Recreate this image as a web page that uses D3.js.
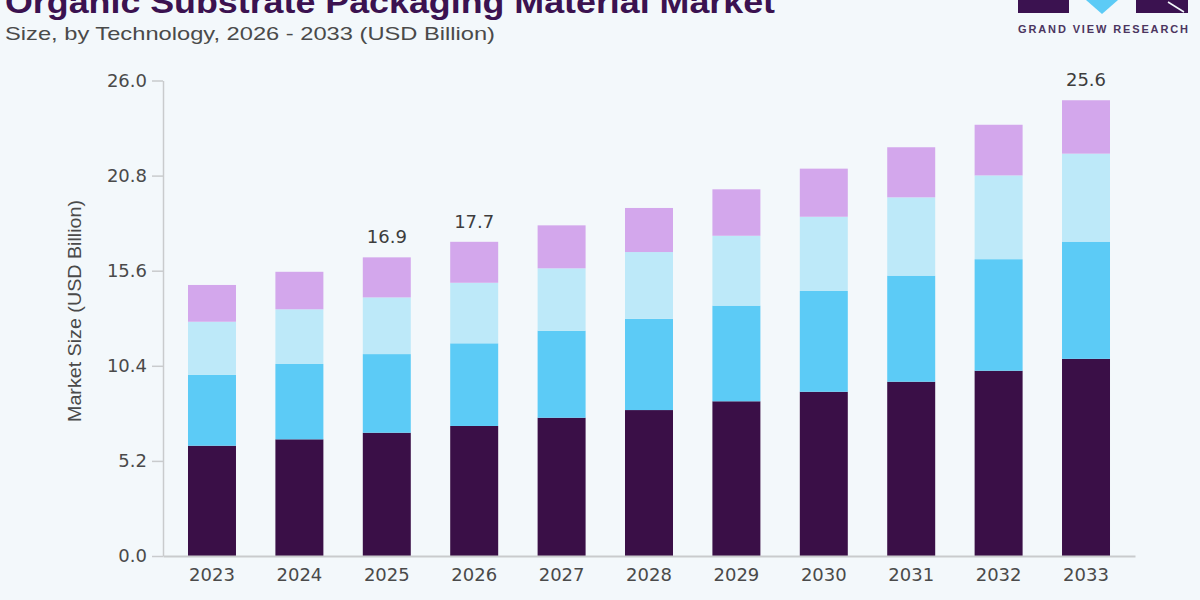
<!DOCTYPE html>
<html>
<head>
<meta charset="utf-8">
<script src="https://cdn.jsdelivr.net/npm/d3@7"></script>
<style>
  html, body { margin: 0; padding: 0; background: #f3f8fb; }
  svg { display: block; font-family: "Liberation Sans", Arial, sans-serif; }
</style>
</head>
<body>
<svg id="chart" width="1200" height="600"></svg>
<script>
// data (USD Billion)
const years = ['2023', '2024', '2025', '2026', '2027', '2028', '2029', '2030', '2031', '2032', '2033'];
const seriesKeys = ['soPackages', 'gaPackages', 'flatNoLeads', 'others'];
const soPackages  = [6.03, 6.38, 6.74, 7.11, 7.56, 7.98, 8.46, 8.98, 9.53, 10.13, 10.78];
const gaPackages  = [3.87, 4.12, 4.30, 4.52, 4.76, 4.99, 5.23, 5.51, 5.80, 6.10, 6.41];
const flatNoLeads = [2.91, 2.99, 3.10, 3.31, 3.41, 3.65, 3.82, 4.06, 4.28, 4.58, 4.81];
const others      = [2.01, 2.05, 2.19, 2.24, 2.35, 2.41, 2.54, 2.63, 2.74, 2.77, 2.92];
const yTicks = [0, 5.2, 10.4, 15.6, 20.8, 26.0];
const labelYears = ['2025', '2026', '2033'];
const labelTexts = ['16.9', '17.7', '25.6'];

const colors = ['#3a0f47', '#5ccbf6', '#bde9f9', '#d3a7ec'];
const numFont = '"DejaVu Sans", Verdana, sans-serif';

const svg = d3.select('#chart');

const table = years.map((yr, i) => ({
  year: yr,
  soPackages: soPackages[i],
  gaPackages: gaPackages[i],
  flatNoLeads: flatNoLeads[i],
  others: others[i]
}));

const stacked = d3.stack().keys(seriesKeys)(table);

const x = d3.scaleBand()
  .domain(years)
  .range([163, 1135])
  .paddingInner(0.451)
  .paddingOuter(0.286);

const y = d3.scaleLinear()
  .domain([0, 26])
  .range([556, 80.5]);

// title + subtitle (title is cut off at the top like the image)
svg.append('text')
  .attr('x', 5).attr('y', 13)
  .attr('fill', '#3b1250')
  .style('font-size', '31px')
  .style('font-weight', 'bold')
  .attr('textLength', 770)
  .attr('lengthAdjust', 'spacingAndGlyphs')
  .text('Organic Substrate Packaging Material Market');

svg.append('text')
  .attr('x', 5).attr('y', 40)
  .attr('fill', '#4a4a4a')
  .style('font-size', '19px')
  .attr('textLength', 490)
  .attr('lengthAdjust', 'spacingAndGlyphs')
  .text('Size, by Technology, 2026 - 2033 (USD Billion)');

// logo
const logo = svg.append('g');
logo.append('rect').attr('x', 1018).attr('y', 0).attr('width', 51).attr('height', 13).attr('fill', '#3b1250');
logo.append('path').attr('d', 'M1086,0 L1118,0 L1102,14 Z').attr('fill', '#5ccbf6');
logo.append('rect').attr('x', 1136).attr('y', 0).attr('width', 52).attr('height', 13).attr('fill', '#3b1250');
logo.append('path').attr('d', 'M1168,2 L1184,12').attr('stroke', '#f3f8fb').attr('stroke-width', 1.5);
logo.append('text')
  .attr('x', 1018).attr('y', 33)
  .attr('fill', '#4b3560')
  .style('font-size', '11px')
  .style('font-weight', 'bold')
  .attr('textLength', 170)
  .attr('lengthAdjust', 'spacing')
  .text('GRAND VIEW RESEARCH');

// y axis
const yAxis = svg.append('g')
  .attr('transform', 'translate(163,0)')
  .call(d3.axisLeft(y).tickValues(yTicks).tickFormat(d3.format('.1f')).tickSize(11).tickSizeOuter(0).tickPadding(5));
yAxis.select('.domain').attr('stroke', '#c9cbcd').attr('stroke-width', 1.5);
yAxis.selectAll('.tick line').attr('stroke', '#c9cbcd').attr('stroke-width', 1.5);
yAxis.selectAll('.tick text')
  .attr('fill', '#4a4a4a')
  .style('font-size', '18px')
  .style('font-family', numFont);

svg.append('text')
  .attr('transform', 'translate(81,311) rotate(-90)')
  .attr('text-anchor', 'middle')
  .attr('fill', '#4a4a4a')
  .style('font-size', '18px')
  .attr('textLength', 222)
  .attr('lengthAdjust', 'spacingAndGlyphs')
  .text('Market Size (USD Billion)');

// stacked bars
svg.append('g')
  .selectAll('g')
  .data(stacked)
  .join('g')
  .attr('fill', (d, i) => colors[i])
  .selectAll('rect')
  .data(d => d)
  .join('rect')
  .attr('x', d => x(d.data.year))
  .attr('width', x.bandwidth())
  .attr('y', d => y(d[1]))
  .attr('height', d => y(d[0]) - y(d[1]));

// x axis
const xAxis = svg.append('g')
  .attr('transform', 'translate(0,' + y(0) + ')')
  .call(d3.axisBottom(x).tickSize(0).tickPadding(12));
xAxis.select('.domain').attr('stroke', '#c9cbcd').attr('stroke-width', 2);
xAxis.selectAll('.tick text')
  .attr('fill', '#4a4a4a')
  .style('font-size', '18px')
  .style('font-family', numFont);

// total labels above selected bars
const lastLayer = stacked[stacked.length - 1];
svg.append('g')
  .selectAll('text')
  .data(labelYears)
  .join('text')
  .attr('x', d => x(d) + x.bandwidth() / 2)
  .attr('y', d => y(lastLayer[years.indexOf(d)][1]) - 14)
  .attr('text-anchor', 'middle')
  .attr('fill', '#3d3d3d')
  .style('font-size', '18px')
  .style('font-family', numFont)
  .text((d, i) => labelTexts[i]);
</script>
</body>
</html>
